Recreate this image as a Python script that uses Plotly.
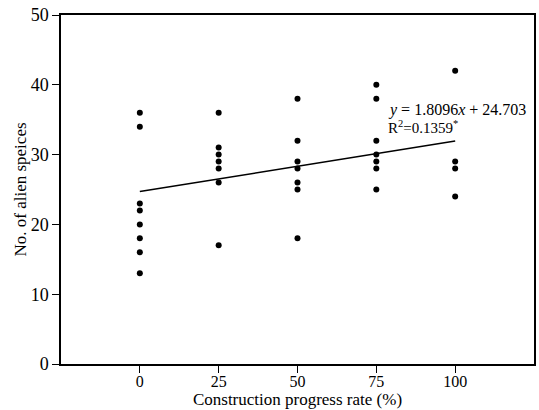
import plotly.graph_objects as go

rate_0 = [36, 34, 23, 22, 20, 18, 16, 13]
rate_25 = [36, 31, 30, 29, 28, 26, 17]
rate_50 = [38, 32, 29, 28, 26, 25, 18]
rate_75 = [40, 38, 32, 30, 29, 28, 25]
rate_100 = [42, 29, 28, 24]
categories = [0, 25, 50, 75, 100]
slope = 1.8096
intercept = 24.703

xs, ys = [], []
for c, vals in zip(categories, [rate_0, rate_25, rate_50, rate_75, rate_100]):
    xs += [c] * len(vals)
    ys += vals

fit_x = [categories[0], categories[-1]]
fit_y = [intercept + slope * (c / 25) for c in fit_x]

FONT = "Liberation Serif"
fig = go.Figure()
fig.add_trace(go.Scatter(x=xs, y=ys, mode="markers",
                         marker=dict(color="black", size=6), showlegend=False))
fig.add_trace(go.Scatter(x=fit_x, y=fit_y, mode="lines",
                         line=dict(color="black", width=1.5), showlegend=False))

fig.add_annotation(x=78, y=36.4, xref="x", yref="y", xanchor="left", yanchor="middle",
                   text="<i>y</i> = 1.8096<i>x</i> + 24.703", showarrow=False,
                   font=dict(family=FONT, size=16, color="black"))
fig.add_annotation(x=78, y=33.9, xref="x", yref="y", xanchor="left", yanchor="middle",
                   text="R<sup>2</sup>=0.1359<sup>*</sup>", showarrow=False,
                   font=dict(family=FONT, size=15, color="black"))

fig.update_layout(
    width=539, height=410,
    margin=dict(l=61, r=5, t=15, b=46, autoexpand=False),
    plot_bgcolor="white", paper_bgcolor="white",
    font=dict(family=FONT, size=17, color="black"),
    xaxis=dict(range=[-25, 125], tickvals=categories, ticks="outside", ticklen=7,
               tickwidth=1.2, tickcolor="black", showline=True, linecolor="black",
               linewidth=1.5, mirror=True, showgrid=False, zeroline=False,
               automargin=False, tickfont=dict(size=16), ticklabelstandoff=-5,
               title=dict(text="Construction progress rate (%)", standoff=3,
                          font=dict(size=17))),
    yaxis=dict(range=[0, 50], tickvals=[0, 10, 20, 30, 40, 50], ticks="outside",
               ticklen=7, tickwidth=1.2, tickcolor="black", showline=True,
               linecolor="black", linewidth=1.5, mirror=True, showgrid=False,
               zeroline=False, automargin=False, tickfont=dict(size=18),
               title=dict(text="No. of alien speices", standoff=0, font=dict(size=17))),
)

fig.write_html("out.html")
